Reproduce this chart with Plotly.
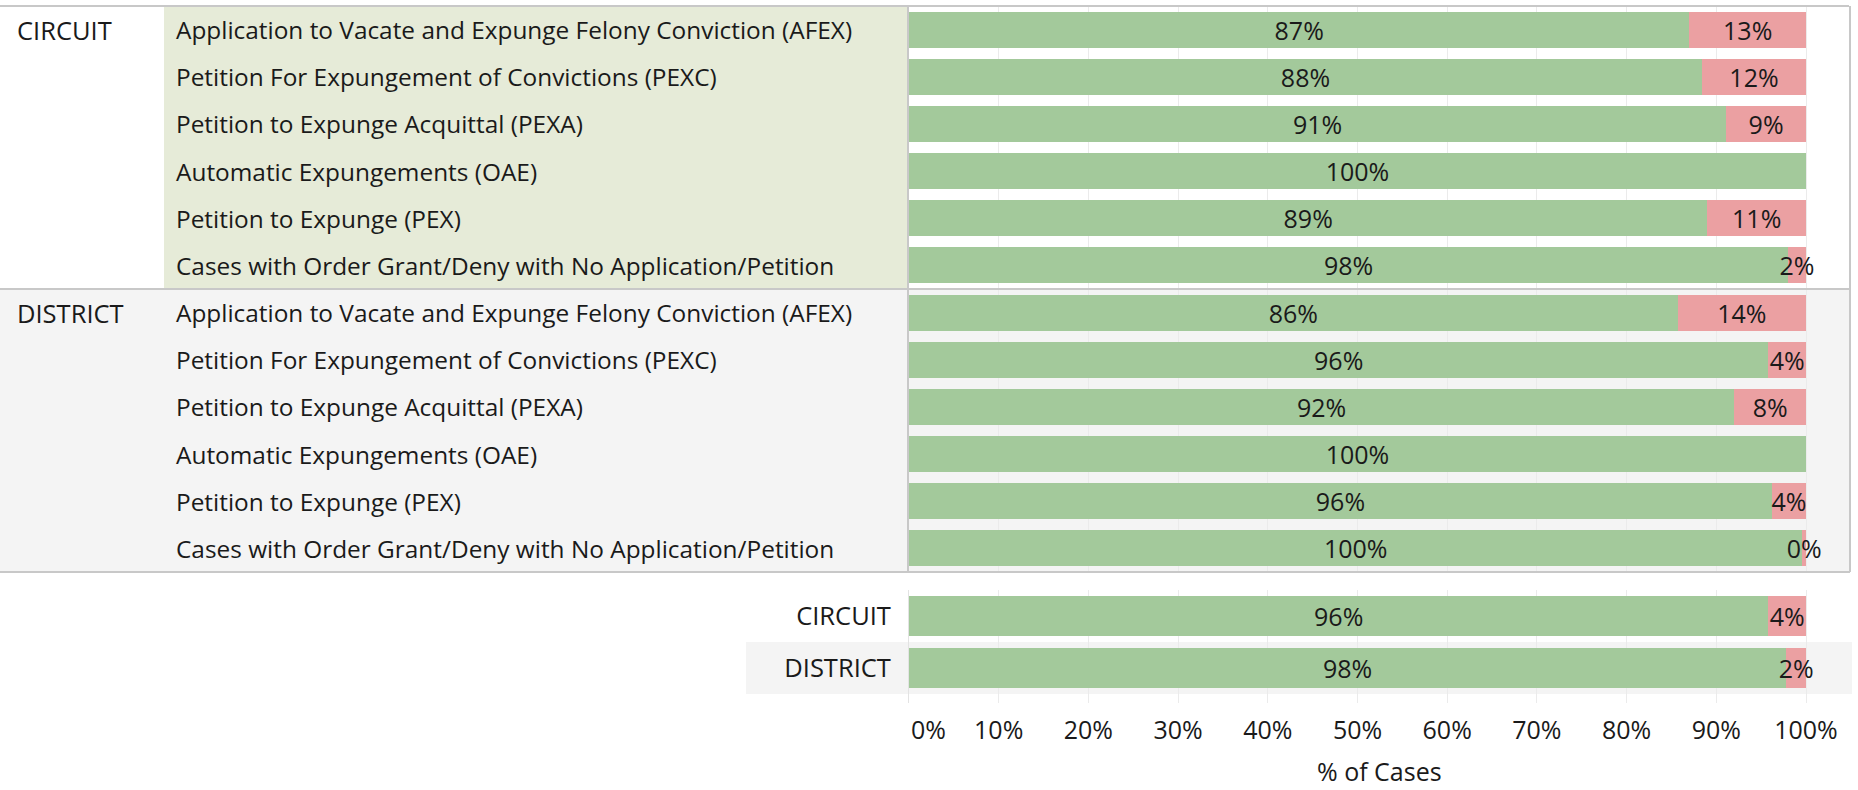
import plotly.graph_objects as go

# ---------------- data ----------------
groups = ["CIRCUIT", "DISTRICT"]
case_types = [
    "Application to Vacate and Expunge Felony Conviction (AFEX)",
    "Petition For Expungement of Convictions (PEXC)",
    "Petition to Expunge Acquittal (PEXA)",
    "Automatic Expungements (OAE)",
    "Petition to Expunge (PEX)",
    "Cases with Order Grant/Deny with No Application/Petition",
]
circuit_granted = [87.0, 88.4, 91.1, 100.0, 89.0, 98.0]
circuit_denied = [13.0, 11.6, 8.9, 0.0, 11.0, 2.0]
district_granted = [85.7, 95.8, 92.0, 100.0, 96.2, 99.6]
district_denied = [14.3, 4.2, 8.0, 0.0, 3.8, 0.4]

total_courts = ["CIRCUIT", "DISTRICT"]
total_granted = [95.8, 97.8]
total_denied = [4.2, 2.2]

x_tick_values = [0, 10, 20, 30, 40, 50, 60, 70, 80, 90, 100]
x_tick_labels = ["0%", "10%", "20%", "30%", "40%", "50%", "60%", "70%", "80%", "90%", "100%"]
axis_title = "% of Cases"

# ---------------- style ----------------
W, H = 1858, 790
FONT = "Open Sans"
FS_ROW = 24.4
FS_CAPS = 25.5
FS_NUM = 25
TXT = "#1a1a1a"
GREEN = "#A3C99B"
RED = "#EBA0A2"
LABEL_BG = "#E6EBD8"
GRAY_BG = "#F4F4F4"
BORDER = "#C8C8C8"
GRID = "#EBEBEB"


def px(x):
    return x / W


def py(y):
    return 1 - y / H


def pct_text(vals):
    return ["" if v == 0 else f"{v:.0f}%" for v in vals]


top_granted = circuit_granted + district_granted
top_denied = circuit_denied + district_denied
top_rows = list(range(len(top_granted)))

fig = go.Figure()

common = dict(orientation="h", textposition="inside", insidetextanchor="middle",
              textangle=0, constraintext="none",
              textfont=dict(family=FONT, size=FS_NUM, color=TXT), hoverinfo="skip")

fig.add_trace(go.Bar(x=top_granted, y=top_rows, marker=dict(color=GREEN, line_width=0),
                     width=0.763, text=pct_text(top_granted), xaxis="x", yaxis="y", **common))
fig.add_trace(go.Bar(x=top_denied, y=top_rows, marker=dict(color=RED, line_width=0),
                     width=0.763, text=pct_text(top_denied), xaxis="x", yaxis="y", **common))
fig.add_trace(go.Bar(x=total_granted, y=total_courts, marker=dict(color=GREEN, line_width=0),
                     width=0.77, text=pct_text(total_granted), xaxis="x2", yaxis="y2", **common))
fig.add_trace(go.Bar(x=total_denied, y=total_courts, marker=dict(color=RED, line_width=0),
                     width=0.77, text=pct_text(total_denied), xaxis="x2", yaxis="y2", **common))

x_dom = [px(909), px(1849)]
x_range = [0, 100 * (1849 - 909) / (1806 - 909)]

shapes = [
    # district background band (top table)
    dict(type="rect", xref="paper", yref="paper", x0=0, x1=px(1849), y0=py(572), y1=py(289),
         fillcolor=GRAY_BG, line_width=0, layer="below"),
    # circuit row-header background
    dict(type="rect", xref="paper", yref="paper", x0=px(164), x1=px(908), y0=py(289), y1=py(6),
         fillcolor=LABEL_BG, line_width=0, layer="below"),
    # district band in totals
    dict(type="rect", xref="paper", yref="paper", x0=px(746), x1=px(1852), y0=py(694), y1=py(642),
         fillcolor=GRAY_BG, line_width=0, layer="below"),
    # borders
    dict(type="line", xref="paper", yref="paper", x0=0, x1=px(1849), y0=py(6), y1=py(6),
         line=dict(color=BORDER, width=2), layer="above"),
    dict(type="line", xref="paper", yref="paper", x0=0, x1=px(1849), y0=py(289), y1=py(289),
         line=dict(color=BORDER, width=2), layer="above"),
    dict(type="line", xref="paper", yref="paper", x0=0, x1=px(1850), y0=py(572), y1=py(572),
         line=dict(color=BORDER, width=2), layer="above"),
    dict(type="line", xref="paper", yref="paper", x0=px(1850), x1=px(1850), y0=py(572), y1=py(6),
         line=dict(color=BORDER, width=2), layer="above"),
    dict(type="line", xref="paper", yref="paper", x0=px(908), x1=px(908), y0=py(572), y1=py(6),
         line=dict(color=BORDER, width=2), layer="above"),
]

annotations = []
for gi, g in enumerate(groups):
    annotations.append(dict(xref="paper", yref="y", x=px(15), y=gi * len(case_types), text=g,
                            showarrow=False, xanchor="left", yanchor="middle",
                            font=dict(family=FONT, size=FS_CAPS, color=TXT)))
    for ci, c in enumerate(case_types):
        annotations.append(dict(xref="paper", yref="y", x=px(174), y=gi * len(case_types) + ci,
                                text=c, showarrow=False, xanchor="left", yanchor="middle",
                                font=dict(family=FONT, size=FS_ROW, color=TXT)))
annotations.append(dict(xref="x2", yref="paper", x=x_tick_values[0], y=py(728.5),
                        text=x_tick_labels[0], showarrow=False, xanchor="left", yanchor="middle",
                        font=dict(family=FONT, size=FS_NUM, color=TXT)))
annotations.append(dict(xref="paper", yref="paper", x=(x_dom[0] + x_dom[1]) / 2, y=py(771),
                        text=axis_title, showarrow=False, xanchor="center", yanchor="middle",
                        font=dict(family=FONT, size=FS_NUM, color=TXT)))

fig.update_layout(
    width=W, height=H, margin=dict(l=0, r=0, t=0, b=0),
    paper_bgcolor="white", plot_bgcolor="rgba(0,0,0,0)",
    barmode="stack", showlegend=False, hovermode=False,
    font=dict(family=FONT, size=FS_NUM, color=TXT),
    uniformtext=dict(minsize=FS_NUM, mode="show"),
    xaxis=dict(domain=x_dom, range=x_range, tickvals=x_tick_values, showticklabels=False,
               showgrid=True, gridcolor=GRID, gridwidth=1, zeroline=False, fixedrange=True),
    yaxis=dict(domain=[py(572), py(6)], range=[len(top_rows) - 0.5, -0.5], showticklabels=False,
               showgrid=False, zeroline=False, fixedrange=True),
    xaxis2=dict(domain=x_dom, range=x_range, anchor="y2", tickvals=x_tick_values,
                ticktext=[""] + x_tick_labels[1:], showgrid=True, gridcolor=GRID, gridwidth=1,
                zeroline=False, ticks="", ticklabelstandoff=10,
                tickfont=dict(family=FONT, size=FS_NUM, color=TXT), fixedrange=True),
    yaxis2=dict(domain=[py(703), py(590)], anchor="x2", type="category",
                categoryorder="array", categoryarray=total_courts,
                range=[1.673, -0.5], showgrid=False, zeroline=False,
                showline=True, linecolor="#E3E3E3", linewidth=1, ticks="",
                ticklabelstandoff=12, tickfont=dict(family=FONT, size=FS_CAPS, color=TXT),
                fixedrange=True),
    shapes=shapes,
    annotations=annotations,
)

fig.write_html(
    "out.html",
    config={"displayModeBar": False},
    post_script="document.body.style.margin='0';document.body.style.overflow='hidden';",
)
